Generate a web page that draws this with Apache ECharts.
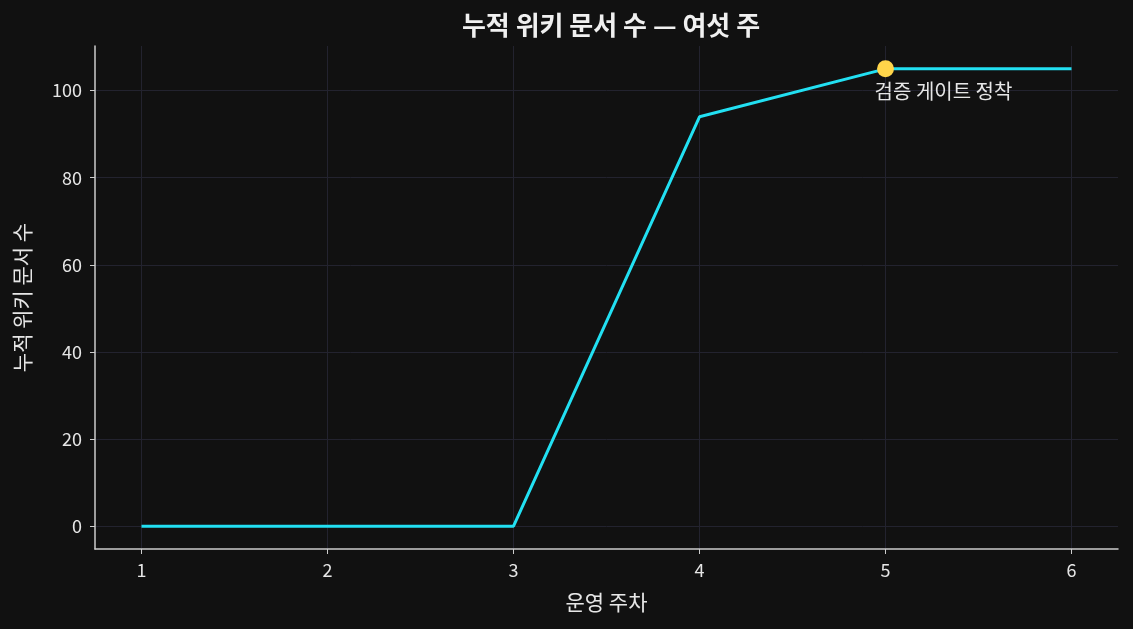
<!DOCTYPE html>
<html>
<head>
<meta charset="utf-8">
<script src="https://cdn.jsdelivr.net/npm/echarts@6/dist/echarts.min.js"></script>
<style>
  html, body { margin: 0; padding: 0; background: #111111; }
  #chart { width: 1133px; height: 629px; }
</style>
</head>
<body>
<div id="chart"></div>
<script>
// 누적 위키 문서 수
var weeks = [1, 2, 3, 4, 5, 6];
var docs = [0, 0, 0, 94, 105, 105];
var xTicks = [1, 2, 3, 4, 5, 6];
var yTicks = [0, 20, 40, 60, 80, 100];
var noteWeek = 5;
var noteText = '검증 게이트 정착';

var FONT = '"Noto Sans CJK KR", "Noto Sans", sans-serif';
var TXT = '#e6e6e6';
var GRID = '#23232f';

var lineData = weeks.map(function(w, i) { return [w, docs[i]]; });
var noteData = [[noteWeek, docs[weeks.indexOf(noteWeek)]]];

var option = {
  backgroundColor: '#111111',
  animation: false,
  title: {
    text: '누적 위키 문서 수 — 여섯 주',
    left: 606,
    textAlign: 'center',
    top: 7,
    textStyle: { color: '#f0f0f0', fontSize: 26, fontWeight: 'bold', fontFamily: FONT }
  },
  grid: { left: 95, right: 15, top: 46, bottom: 80 },
  xAxis: {
    type: 'value',
    min: 0.75,
    max: 6.25,
    name: '운영 주차',
    nameLocation: 'middle',
    nameGap: 43,
    nameTextStyle: { color: TXT, fontSize: 21, fontFamily: FONT },
    axisLine: { show: true, onZero: false, lineStyle: { color: '#cccccc', width: 1.5 } },
    axisTick: { show: true, length: 5, customValues: xTicks, lineStyle: { color: '#cccccc' } },
    axisLabel: { customValues: xTicks, color: TXT, fontSize: 18, fontFamily: FONT, margin: 12 },
    splitLine: { show: true, lineStyle: { color: GRID, width: 1 } }
  },
  yAxis: {
    type: 'value',
    min: -5.25,
    max: 110.25,
    name: '누적 위키 문서 수',
    nameLocation: 'middle',
    nameGap: 62,
    nameTextStyle: { color: TXT, fontSize: 21, fontFamily: FONT },
    axisLine: { show: true, onZero: false, lineStyle: { color: '#cccccc', width: 1.5 } },
    axisTick: { show: true, length: 5, customValues: yTicks, lineStyle: { color: '#cccccc' } },
    axisLabel: { customValues: yTicks, color: TXT, fontSize: 18, fontFamily: FONT, margin: 13 },
    splitLine: { show: true, lineStyle: { color: GRID, width: 1 } }
  },
  series: [{
    name: '누적 위키 문서 수',
    type: 'line',
    data: lineData,
    symbol: 'none',
    lineStyle: { color: '#22e0f2', width: 3 }
  }, {
    name: noteText,
    type: 'scatter',
    data: noteData,
    symbolSize: 17,
    itemStyle: { color: '#ffd54a', opacity: 1 },
    z: 5,
    label: {
      show: true,
      formatter: noteText,
      position: 'inside',
      offset: [58, 23],
      color: TXT,
      fontSize: 20,
      fontFamily: FONT
    }
  }]
};

var myChart = echarts.init(document.getElementById('chart'));
myChart.setOption(option);
</script>
</body>
</html>
